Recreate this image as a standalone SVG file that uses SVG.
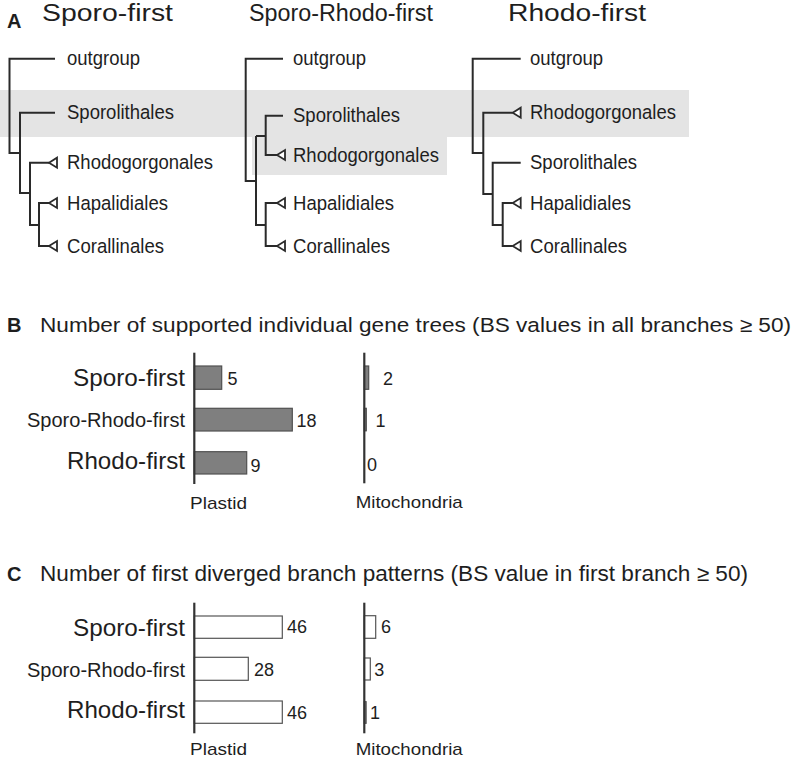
<svg xmlns="http://www.w3.org/2000/svg" width="798" height="759" viewBox="0 0 798 759">
<style>
text{font-family:"Liberation Sans",Arial,sans-serif;fill:#1e1e1e}
.t{font-size:20.5px}
.h{font-size:23px}
.p{font-size:22px}
.p2{font-size:20.5px}
.r{font-size:24px;text-anchor:end}
.rs{font-size:21px;text-anchor:end}
.v{font-size:18px}
.ax{font-size:17px}
.lab{font-size:20px;font-weight:bold}
.br{fill:none;stroke:#2a2a2a;stroke-width:2}
.tri{fill:#fff;stroke:#2a2a2a;stroke-width:1.8;stroke-linejoin:miter}
.axis{stroke:#333;stroke-width:2.2}
.bg{fill:#7f7f7f;stroke:#505050;stroke-width:1.2}
.bw{fill:#fff;stroke:#555;stroke-width:1.2}
.hl{fill:#e4e4e4}
</style>
<defs>
<path id="tr" class="tri" d="M0 0 L8 -5 L8 5 Z"/>
</defs>
<rect width="798" height="759" fill="#fff"/>
<g id="highlights">
<rect class="hl" x="0" y="90" width="689" height="47"/>
<rect class="hl" x="252" y="136" width="195" height="39"/>
</g>
<text class="lab" x="7" y="28">A</text>
<text class="lab" x="7" y="332">B</text>
<text class="lab" x="7" y="581">C</text>
<text class="h" x="42" y="21" textLength="131" lengthAdjust="spacingAndGlyphs">Sporo-first</text>
<text class="h" x="249" y="21" textLength="184" lengthAdjust="spacingAndGlyphs">Sporo-Rhodo-first</text>
<text class="h" x="508" y="21" textLength="138" lengthAdjust="spacingAndGlyphs">Rhodo-first</text>
<g id="connectors">
<path class="br" d="M55 58.7 H9.5 V153 H20 M55 112.7 H20 V193 H30 M49 162.7 H30 V225 H39 M49 203 H39 V246 H49"/>
<path class="br" d="M283 58.7 H245.7 V181 H256 M256 136 V225 H265.7 M256 136 H265.7 M283 115.7 H265.7 V155 H277 M277 203 H265.7 V246 H277"/>
<path class="br" d="M520.7 58.7 H472.7 V153 H483.3 M512.7 112.7 H483.3 V194 H492.7 M520.7 162.7 H492.7 V225 H502.7 M512.7 203 H502.7 V246 H512.7"/>
</g>
<g id="t1-outgroup"><text class="t" x="67" y="65" textLength="73" lengthAdjust="spacingAndGlyphs">outgroup</text></g>
<g id="t1-sporolithales"><text class="t" x="67" y="119.3" textLength="107" lengthAdjust="spacingAndGlyphs">Sporolithales</text></g>
<g id="t1-rhodogorgonales"><use href="#tr" x="49" y="162.7"/><text class="t" x="67" y="169.3" textLength="146" lengthAdjust="spacingAndGlyphs">Rhodogorgonales</text></g>
<g id="t1-hapalidiales"><use href="#tr" x="49" y="203"/><text class="t" x="67" y="209.7" textLength="101" lengthAdjust="spacingAndGlyphs">Hapalidiales</text></g>
<g id="t1-corallinales"><use href="#tr" x="49" y="246"/><text class="t" x="67" y="252.7" textLength="97" lengthAdjust="spacingAndGlyphs">Corallinales</text></g>
<g id="t2-outgroup"><text class="t" x="293" y="65" textLength="73" lengthAdjust="spacingAndGlyphs">outgroup</text></g>
<g id="t2-sporolithales"><text class="t" x="293" y="122.3" textLength="107" lengthAdjust="spacingAndGlyphs">Sporolithales</text></g>
<g id="t2-rhodogorgonales"><use href="#tr" x="277" y="155"/><text class="t" x="293" y="161.6" textLength="146" lengthAdjust="spacingAndGlyphs">Rhodogorgonales</text></g>
<g id="t2-hapalidiales"><use href="#tr" x="277" y="203"/><text class="t" x="293" y="209.7" textLength="101" lengthAdjust="spacingAndGlyphs">Hapalidiales</text></g>
<g id="t2-corallinales"><use href="#tr" x="277" y="246"/><text class="t" x="293" y="252.7" textLength="97" lengthAdjust="spacingAndGlyphs">Corallinales</text></g>
<g id="t3-outgroup"><text class="t" x="530" y="65" textLength="73" lengthAdjust="spacingAndGlyphs">outgroup</text></g>
<g id="t3-rhodogorgonales"><use href="#tr" x="512.7" y="112.7"/><text class="t" x="530" y="119.3" textLength="146" lengthAdjust="spacingAndGlyphs">Rhodogorgonales</text></g>
<g id="t3-sporolithales"><text class="t" x="530" y="169.3" textLength="107" lengthAdjust="spacingAndGlyphs">Sporolithales</text></g>
<g id="t3-hapalidiales"><use href="#tr" x="512.7" y="203"/><text class="t" x="530" y="209.7" textLength="101" lengthAdjust="spacingAndGlyphs">Hapalidiales</text></g>
<g id="t3-corallinales"><use href="#tr" x="512.7" y="246"/><text class="t" x="530" y="252.7" textLength="97" lengthAdjust="spacingAndGlyphs">Corallinales</text></g>

<text class="p2" x="40" y="332" textLength="751" lengthAdjust="spacingAndGlyphs">Number of supported individual gene trees (BS values in all branches ≥ 50)</text>
<text class="r" x="185" y="386" textLength="112" lengthAdjust="spacingAndGlyphs">Sporo-first</text>
<text class="rs" x="185" y="427" textLength="158" lengthAdjust="spacingAndGlyphs">Sporo-Rhodo-first</text>
<text class="r" x="185" y="469" textLength="118" lengthAdjust="spacingAndGlyphs">Rhodo-first</text>
<g id="b-plastid">
<rect class="bg" x="194.3" y="366" width="27.4" height="23.3"/>
<rect class="bg" x="194.3" y="408.3" width="98" height="22.7"/>
<rect class="bg" x="194.3" y="451.7" width="52.4" height="22.3"/>
<line class="axis" x1="194.3" y1="352.7" x2="194.3" y2="484"/>
<text class="v" x="227.5" y="384.5">5</text>
<text class="v" x="296.5" y="426.7">18</text>
<text class="v" x="250.5" y="471.7">9</text>
<text class="ax" x="190" y="509.3" textLength="57" lengthAdjust="spacingAndGlyphs">Plastid</text>
</g>
<g id="b-mito">
<rect class="bg" x="364.3" y="366" width="4.4" height="23.3"/>
<rect class="bg" x="364.3" y="408.3" width="2" height="22.5"/>
<line class="axis" x1="364.3" y1="352.7" x2="364.3" y2="483.3"/>
<text class="v" x="383" y="384.5">2</text>
<text class="v" x="375.5" y="426.7">1</text>
<text class="v" x="367" y="470.7">0</text>
<text class="ax" x="355.7" y="507.7" textLength="107" lengthAdjust="spacingAndGlyphs">Mitochondria</text>
</g>

<text class="p" x="40" y="581" textLength="708" lengthAdjust="spacingAndGlyphs">Number of first diverged branch patterns (BS value in first branch ≥ 50)</text>
<text class="r" x="185" y="636" textLength="112" lengthAdjust="spacingAndGlyphs">Sporo-first</text>
<text class="rs" x="185" y="676.7" textLength="158" lengthAdjust="spacingAndGlyphs">Sporo-Rhodo-first</text>
<text class="r" x="185" y="718.3" textLength="118" lengthAdjust="spacingAndGlyphs">Rhodo-first</text>
<g id="c-plastid">
<rect class="bw" x="194.3" y="616" width="88" height="22.3"/>
<rect class="bw" x="194.3" y="657.3" width="54" height="23"/>
<rect class="bw" x="194.3" y="701" width="88" height="22.3"/>
<line class="axis" x1="194.3" y1="602.7" x2="194.3" y2="733.3"/>
<text class="v" x="287" y="633.3">46</text>
<text class="v" x="254" y="676">28</text>
<text class="v" x="287" y="719.3">46</text>
<text class="ax" x="190" y="755" textLength="57" lengthAdjust="spacingAndGlyphs">Plastid</text>
</g>
<g id="c-mito">
<rect class="bw" x="364.3" y="615.7" width="11.4" height="22.6"/>
<rect class="bw" x="364.3" y="658" width="6" height="22"/>
<rect class="bg" x="364.3" y="701.7" width="1.8" height="21.6"/>
<line class="axis" x1="364.3" y1="602.7" x2="364.3" y2="733.3"/>
<text class="v" x="381" y="633.3">6</text>
<text class="v" x="374.3" y="676">3</text>
<text class="v" x="370" y="719.3">1</text>
<text class="ax" x="355.7" y="755" textLength="107" lengthAdjust="spacingAndGlyphs">Mitochondria</text>
</g>
</svg>
